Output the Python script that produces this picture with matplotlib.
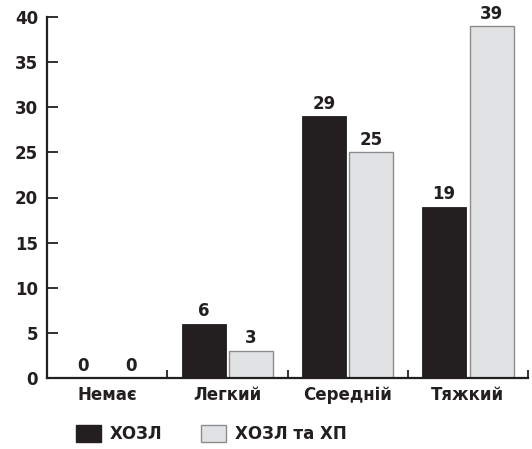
import matplotlib
matplotlib.use("Agg")
import matplotlib.pyplot as plt
from matplotlib.patches import Patch
import numpy as np

categories = ["Немає", "Легкий", "Середній", "Тяжкий"]
series_names = ["ХОЗЛ", "ХОЗЛ та ХП"]
copd = [0, 6, 29, 19]
copd_cp = [0, 3, 25, 39]
y_ticks = [0, 5, 10, 15, 20, 25, 30, 35, 40]

plt.rcParams["font.family"] = ["DejaVu Sans"]
plt.rcParams["font.weight"] = "bold"

dark = "#231f20"
light = "#e1e2e4"
edge_light = "#8c8c8c"
fs = 12

fig = plt.figure(figsize=(5.32, 4.49), dpi=100)
ax = fig.add_axes([47 / 532, 1 - 378 / 449, (528 - 47) / 532, (378 - 17) / 449])

x = np.arange(len(categories))
w = 0.365
off = 0.197
b1 = ax.bar(x - off, copd, w, color=dark, edgecolor=dark, linewidth=0.6)
b2 = ax.bar(x + off, copd_cp, w, color=light, edgecolor=edge_light, linewidth=1.0)

for bars, vals in ((b1, copd), (b2, copd_cp)):
    for rect, v in zip(bars, vals):
        ax.annotate(str(v), (rect.get_x() + rect.get_width() / 2, v),
                    xytext=(0, 2.5), textcoords="offset points",
                    ha="center", va="bottom", fontsize=fs, fontweight="bold",
                    color=dark)

ax.set_xlim(-0.5, len(categories) - 0.5)
ax.set_ylim(0, 40)
ax.set_yticks(y_ticks)
ax.set_yticklabels([str(t) for t in y_ticks], fontsize=fs, fontweight="bold", color=dark)
ax.set_xticks(x)
ax.set_xticklabels(categories, fontsize=fs, fontweight="bold", color=dark)
ax.set_xticks(np.arange(len(categories)) + 0.5, minor=True)

ax.tick_params(axis="y", direction="in", length=8, width=1.3, pad=6.5, color=dark)
ax.tick_params(axis="x", which="major", length=0, pad=6)
ax.tick_params(axis="x", which="minor", direction="in", length=6, width=1.3, color=dark)

for s in ("top", "right"):
    ax.spines[s].set_visible(False)
for s in ("left", "bottom"):
    ax.spines[s].set_linewidth(1.6)
    ax.spines[s].set_color(dark)

handles = [Patch(facecolor=dark, edgecolor=dark, label=series_names[0]),
           Patch(facecolor=light, edgecolor=edge_light, label=series_names[1])]
leg = fig.legend(handles=handles, loc="center left", bbox_to_anchor=(76 / 532, 1 - 434 / 449),
                 ncol=2, frameon=False, borderpad=0, borderaxespad=0,
                 handlelength=1.5, handleheight=1.15, handletextpad=0.55,
                 columnspacing=2.3, prop={"size": fs, "weight": "bold"})
for t in leg.get_texts():
    t.set_color(dark)

fig.savefig("out.png", dpi=100)
